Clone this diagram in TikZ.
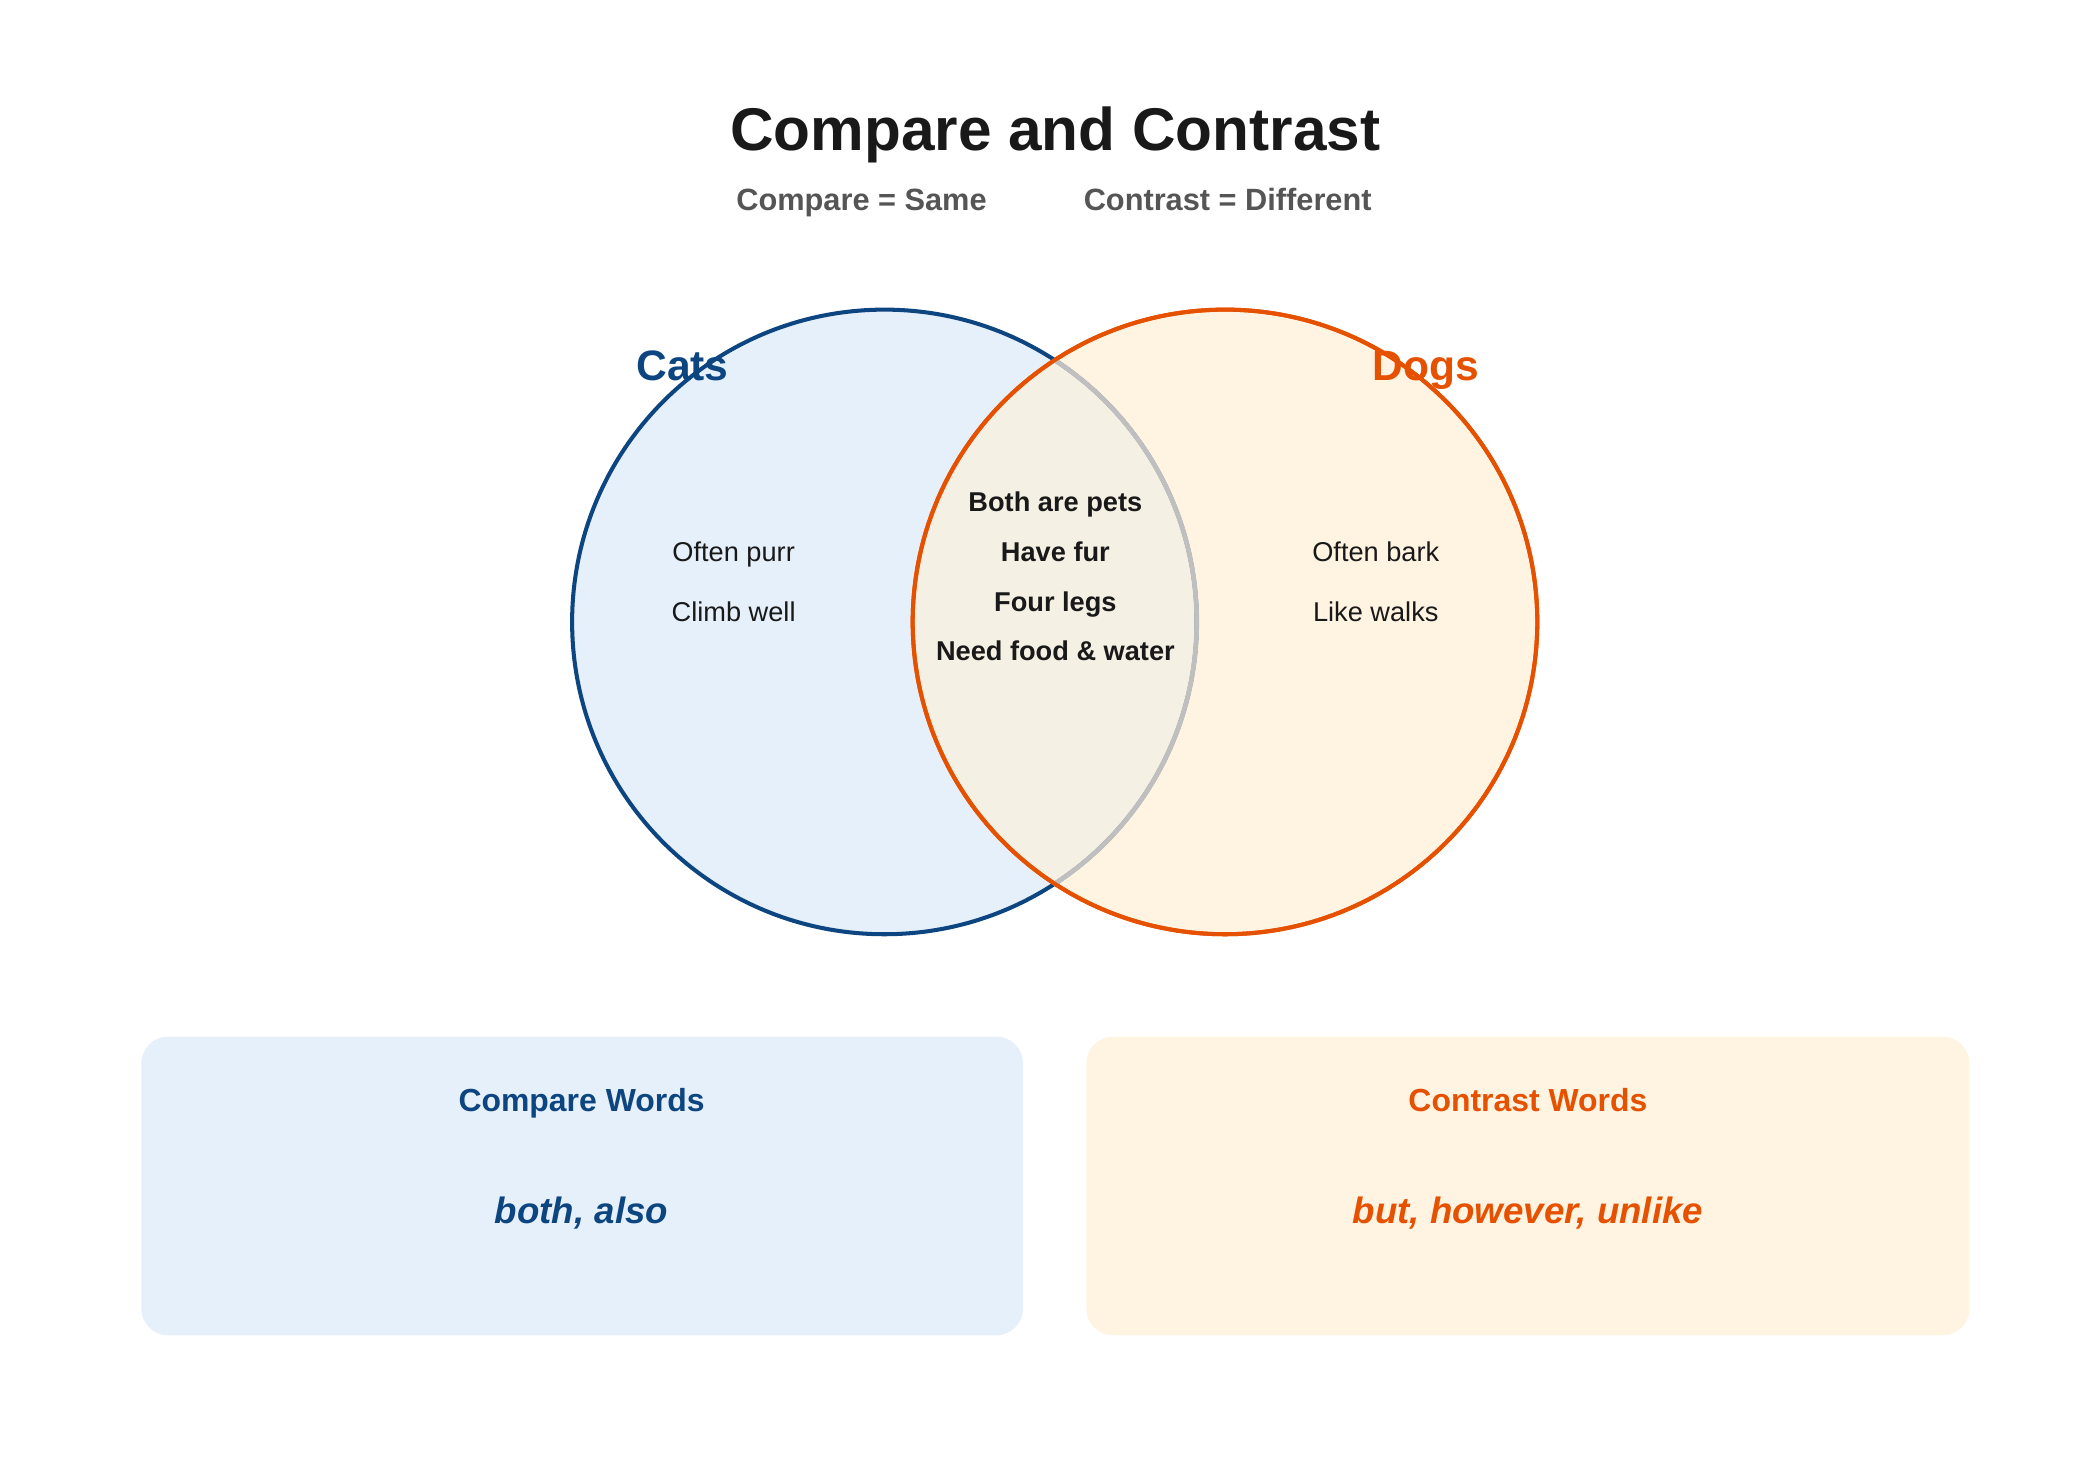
\documentclass[tikz,border=0pt]{standalone}
\usepackage{fontspec}
\setmainfont{Liberation Sans}
\definecolor{cblue}{HTML}{0D4580}
\definecolor{corange}{HTML}{E65100}
\definecolor{lblue}{HTML}{E6F0FA}
\definecolor{lorange}{HTML}{FFF3E2}
\definecolor{mix}{HTML}{F5F0E4}
\definecolor{sub}{HTML}{555555}
\begin{document}
\begin{tikzpicture}[x=0.02cm,y=-0.02cm,
  every node/.style={anchor=base},
  body/.style={font=\fontsize{11.5}{14}\selectfont, text=black!90},
  mid/.style={font=\bfseries\fontsize{11.5}{14}\selectfont, text=black!90},
  box/.style={rounded corners=0.4cm}]
\useasboundingbox (0,0) rectangle (1560,1100);
\fill[lblue] (657,462) circle (232);
\fill[lorange] (910,462) circle (232);
\begin{scope}
\clip (910,462) circle (232);
\fill[mix] (657,462) circle (232);
\end{scope}
\draw[cblue,line width=0.06cm] (657,462) circle (232);
\draw[corange,line width=0.06cm] (910,462) circle (232);
\begin{scope}
\clip (910,462) circle (231);
\draw[black!25,line width=0.07cm] (657,462) circle (232);
\end{scope}
\draw[corange,line width=0.06cm] (910,462) circle (232);

\node[font=\bfseries\fontsize{25.5}{30}\selectfont,text=black!90] (title) at (784,112) {Compare and Contrast};
\node[font=\bfseries\fontsize{13}{16}\selectfont,text=sub] (s1) at (640,156) {Compare = Same};
\node[font=\bfseries\fontsize{13}{16}\selectfont,text=sub] (s2) at (912,156) {Contrast = Different};

\node[font=\bfseries\fontsize{18}{22}\selectfont,text=cblue] (cats) at (507,283) {Cats};
\node[font=\bfseries\fontsize{18}{22}\selectfont,text=corange] (dogs) at (1059,283) {Dogs};

\node[body] (l1) at (545,417) {Often purr};
\node[body] (l2) at (545,462) {Climb well};
\node[body] (r1) at (1022,417) {Often bark};
\node[body] (r2) at (1022,462) {Like walks};
\node[mid] (m1) at (784,380) {Both are pets};
\node[mid] (m2) at (784,417) {Have fur};
\node[mid] (m3) at (784,454) {Four legs};
\node[mid] (m4) at (784,491) {Need food \& water};

\fill[lblue,box] (105,770) rectangle (760,992);
\fill[lorange,box] (807,770) rectangle (1463,992);
\node[font=\bfseries\fontsize{13.5}{17}\selectfont,text=cblue] (h1) at (432,826) {Compare Words};
\node[font=\bfseries\itshape\fontsize{15.5}{19}\selectfont,text=cblue] (w1) at (432,909) {both, also};
\node[font=\bfseries\fontsize{13.5}{17}\selectfont,text=corange] (h2) at (1135,826) {Contrast Words};
\node[font=\bfseries\itshape\fontsize{15.5}{19}\selectfont,text=corange] (w2) at (1135,909) {but, however, unlike};
\end{tikzpicture}
\end{document}
